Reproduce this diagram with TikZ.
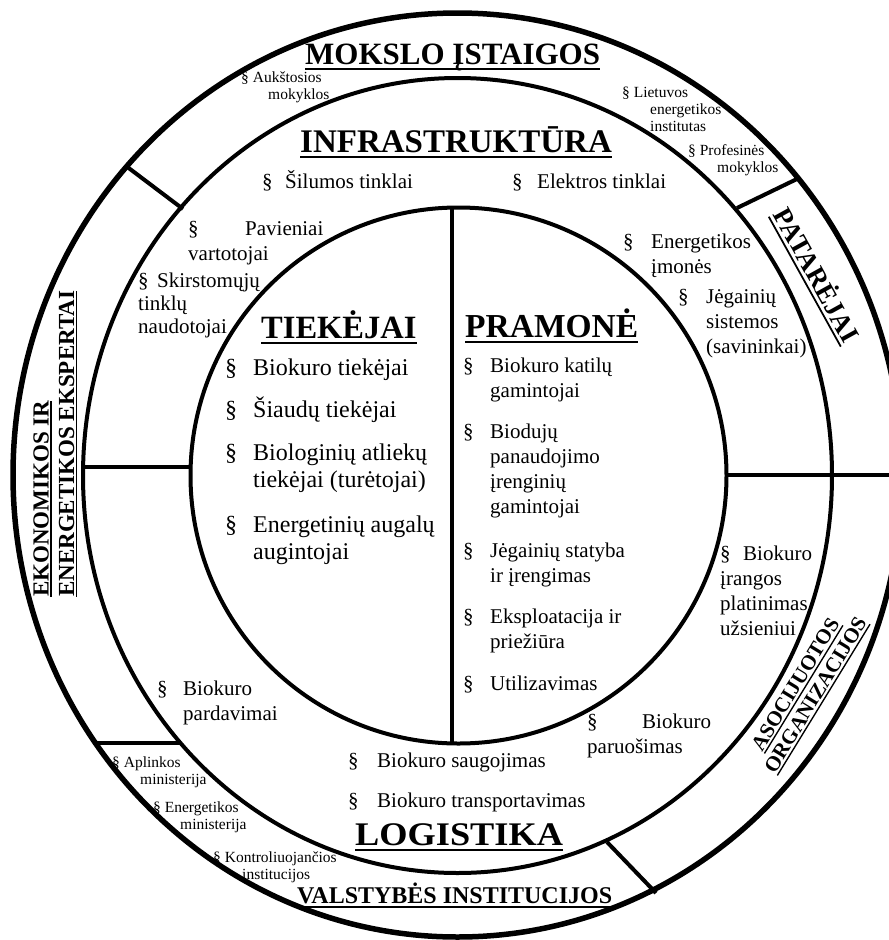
\documentclass[tikz,border=0pt]{standalone}
\usepackage{fontspec}
\usepackage{graphicx}
\setmainfont{Liberation Serif}

% underlined heading text: rule placed below the baseline
\newsavebox\hdbox
\newcommand{\hdul}[2][-0.19em]{\sbox\hdbox{#2}\rlap{\rule[#1]{\wd\hdbox}{0.065em}}\usebox\hdbox}
\newcommand{\fs}[2]{\fontsize{#1}{#2}\selectfont}
% stacked lines, first line on the node baseline
\newcommand{\lines}[1]{\begin{tabular}[t]{@{}l@{}}#1\end{tabular}}
% section-sign bullet with hanging text
\newcommand{\sect}[2]{\makebox[#1][l]{§}\lines{#2}}

\tikzset{
  rim/.style={line width=5.5pt},
  ring/.style={line width=4pt},
  sep/.style={line width=4pt},
  head/.style={inner sep=0pt, anchor=base west, font=\bfseries\fs{32.5}{36}},
  big/.style={inner sep=0pt, anchor=base west, font=\fs{24}{27}},
  mid/.style={inner sep=0pt, anchor=base west, font=\fs{21}{25}},
  small/.style={inner sep=0pt, anchor=base west, font=\fs{15.5}{17}},
}

\begin{document}
\begin{tikzpicture}[x=1pt,y=-1pt]
\useasboundingbox (0,0) rectangle (889,940);

% rings
\draw[rim]  (457.5,475)   ellipse [x radius=444.5, y radius=462];
\draw[ring] (457.5,475.5) ellipse [x radius=374.5, y radius=397.5];
\draw[ring] (458.5,475.5) circle [radius=268];

% dividing lines
\coordinate (ulO) at (126,166);  \coordinate (ulI) at (183,209);
\coordinate (urI) at (737,208);  \coordinate (urO) at (799,178);
\coordinate (lrI) at (607,842);  \coordinate (lrO) at (656,893);
\coordinate (llO) at (93,743);   \coordinate (llI) at (181,743);
\coordinate (lhO) at (83,467);   \coordinate (lhI) at (191,467);
\coordinate (rhI) at (726,475);  \coordinate (rhO) at (905,475);
\coordinate (vT)  at (452,207);  \coordinate (vB)  at (452,744);
\draw[sep] (ulO) -- (ulI);
\draw[sep] (urI) -- (urO);
\draw[sep] (lrI) -- (lrO);
\draw[sep] (llO) -- (llI);
\draw[sep] (lhO) -- (lhI);
\draw[sep] (rhI) -- (rhO);
\draw[line width=3.5pt] (vT) -- (vB);

% headings
\node[head, font=\bfseries\fs{31}{34}] (mokslo) at (305,64) {\hdul{MOKSLO ĮSTAIGOS}};
\node[head, font=\bfseries\fs{33}{36}] (infra) at (300,152) {\hdul{INFRASTRUKTŪRA}};
\node[head] (tiekh) at (261,338) {\hdul{TIEKĖJAI}};
\node[head, font=\bfseries\fs{33.5}{36}] (pramh) at (465,337) {\hdul{PRAMONĖ}};
\node[head, font=\bfseries\fs{33}{36}] (logh) at (355,845) {\scalebox{1.1}[1]{\hdul{LOGISTIKA}}};
\node[head, font=\bfseries\fs{24}{27}] (valst) at (297,903) {\hdul{VALSTYBĖS INSTITUCIJOS}};
\node[head, font=\bfseries\fs{27}{30}, anchor=base, rotate=-61] (patar) at (808.5,279.6) {\hdul{PATARĖJAI}};
\node[head, font=\bfseries\fs{23}{26}, rotate=90] (ekon1) at (48.5,597) {\hdul[-0.14em]{EKONOMIKOS IR}};
\node[head, font=\bfseries\fs{23}{26}, rotate=90] (ekon2) at (74,597) {\hdul[-0.14em]{ENERGETIKOS EKSPERTAI}};
\node[head, font=\bfseries\fs{21}{24}, anchor=base, rotate=58.5] (asoc1) at (801.4,688) {\hdul[-0.16em]{ASOCIJUOTOS}};
\node[head, font=\bfseries\fs{21}{24}, anchor=base, rotate=58.5] (asoc2) at (821.4,698.4) {\hdul[-0.16em]{ORGANIZACIJOS}};

% outer ring entries
\node[small] (aukst) at (241,82) {\lines{§ Aukštosios\\\hspace{27pt}mokyklos}};
\node[small] (lei) at (622,97) {\lines{§ Lietuvos\\\hspace{28pt}energetikos\\\hspace{28pt}institutas}};
\node[small] (prof) at (688,155) {\lines{§ Profesinės\\\hspace{29pt}mokyklos}};
\node[small] (aplink) at (112,767) {\lines{§ Aplinkos\\\hspace{28pt}ministerija}};
\node[small] (enmin) at (153,812) {\lines{§ Energetikos\\\hspace{27pt}ministerija}};
\node[small] (kontr) at (213,862) {\lines{§ Kontroliuojančios\\\hspace{29pt}institucijos}};

% middle ring entries
\node[mid] (silum) at (262,188) {\sect{23pt}{Šilumos tinklai}};
\node[mid] (elektr) at (512,188) {\sect{25pt}{Elektros tinklai}};
\node[mid] (pavien) at (188,235) {\lines{\makebox[57pt][l]{§}Pavieniai\\vartotojai}};
\node[mid, font=\fs{21}{23}] (skirst) at (138,287) {\lines{\makebox[19pt][l]{§}Skirstomųjų\\tinklų\\naudotojai}};
\node[mid] (energ) at (623,248) {\sect{28pt}{Energetikos\\įmonės}};
\node[mid] (jegain) at (678,303) {\sect{28pt}{Jėgainių\\sistemos\\(savininkai)}};
\node[mid] (iranga) at (720,560) {\lines{\makebox[23pt][l]{§}Biokuro\\įrangos\\platinimas\\užsieniui}};
\node[mid] (paruos) at (587,728) {\lines{\makebox[55pt][l]{§}Biokuro\\paruošimas}};
\node[mid] (saugoj) at (348,767) {\sect{29pt}{Biokuro saugojimas}};
\node[mid] (transp) at (348,807) {\sect{29pt}{Biokuro transportavimas}};
\node[mid] (pardav) at (157,695) {\sect{26pt}{Biokuro\\pardavimai}};

% suppliers
\node[big] (t1) at (225,375) {\sect{28pt}{Biokuro tiekėjai}};
\node[big] (t2) at (225,417) {\sect{28pt}{Šiaudų tiekėjai}};
\node[big] (t3) at (225,460) {\sect{28pt}{Biologinių atliekų\\tiekėjai (turėtojai)}};
\node[big] (t4) at (225,532) {\sect{28pt}{Energetinių augalų\\augintojai}};

% industry
\node[mid] (p1) at (463,372) {\sect{27pt}{Biokuro katilų\\gamintojai}};
\node[mid] (p2) at (463,438) {\sect{27pt}{Biodujų\\panaudojimo\\įrenginių\\gamintojai}};
\node[mid] (p3) at (463,557) {\sect{27pt}{Jėgainių statyba\\ir įrengimas}};
\node[mid] (p4) at (463,623) {\sect{27pt}{Eksploatacija ir\\priežiūra}};
\node[mid] (p5) at (463,690) {\sect{27pt}{Utilizavimas}};
\end{tikzpicture}
\end{document}
